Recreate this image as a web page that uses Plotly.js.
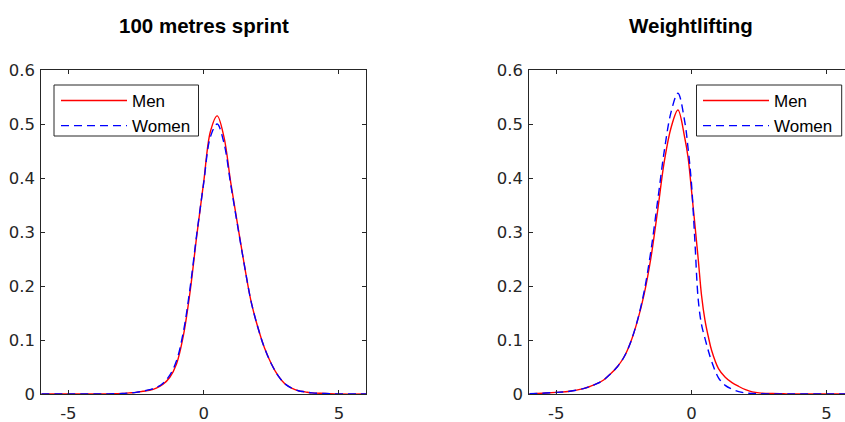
<!DOCTYPE html>
<html>
<head>
<meta charset="utf-8">
<script src="https://cdn.plot.ly/plotly-3.0.1.min.js"></script>
<style>
html, body { margin: 0; padding: 0; overflow: hidden; background: #fff; }
#wrap { width: 845px; height: 422px; overflow: hidden; position: relative; }
#chart { width: 870px; height: 422px; }
</style>
</head>
<body>
<div id="wrap"><div id="chart"></div></div>
<script>
// ---- data ----
const panelTitles = ["100 metres sprint", "Weightlifting"];
const seriesNames = ["Men", "Women"];

const sprintX = [-6,-5,-4,-3.5,-3,-2.75,-2.5,-2.25,-2,-1.75,-1.5,-1.25,-1,-0.75,-0.5,-0.25,0,0.25,0.5,0.75,1,1.25,1.5,1.75,2,2.25,2.5,2.75,3,3.25,3.5,3.75,4,4.5,5,6];
const sprintMen = [0,0,0,0.0003,0.001,0.002,0.003,0.005,0.007,0.011,0.018,0.031,0.056,0.108,0.19,0.295,0.392,0.486,0.515,0.476,0.392,0.315,0.240,0.172,0.124,0.085,0.056,0.034,0.019,0.011,0.006,0.004,0.002,0.001,0,0];
const sprintWomen = [0,0,0,0.0003,0.001,0.002,0.003,0.005,0.008,0.012,0.020,0.035,0.062,0.115,0.197,0.298,0.390,0.476,0.500,0.465,0.388,0.313,0.240,0.172,0.124,0.085,0.056,0.034,0.019,0.011,0.006,0.004,0.002,0.001,0,0];

const liftX = [-6,-5.5,-5,-4.5,-4,-3.75,-3.5,-3.25,-3,-2.75,-2.5,-2.25,-2,-1.75,-1.5,-1.25,-1,-0.75,-0.5,-0.25,-0.125,0,0.125,0.25,0.375,0.5,0.625,0.75,1,1.25,1.5,1.75,2,2.25,2.5,3,3.5,4,5,6];
const liftMen = [0.0005,0.0015,0.003,0.005,0.010,0.014,0.019,0.026,0.037,0.050,0.068,0.096,0.135,0.185,0.252,0.340,0.432,0.494,0.526,0.475,0.438,0.378,0.315,0.250,0.182,0.137,0.106,0.080,0.047,0.031,0.021,0.014,0.008,0.004,0.002,0.0008,0.0003,0,0,0];
const liftWomen = [0.0005,0.0015,0.003,0.005,0.010,0.014,0.019,0.026,0.037,0.050,0.068,0.096,0.136,0.190,0.265,0.358,0.452,0.523,0.557,0.505,0.455,0.390,0.285,0.175,0.128,0.103,0.080,0.060,0.030,0.016,0.009,0.0045,0.002,0.001,0.0005,0,0,0,0,0];

const xTicks = [-5, 0, 5];
const xTickText = ["-5", "0", "5"];
const yTicks = [0, 0.1, 0.2, 0.3, 0.4, 0.5, 0.6];
const yTickText = ["0", "0.1", "0.2", "0.3", "0.4", "0.5", "0.6"];

// ---- layout ----
const W = 870, H = 422;
const FONT = "Liberation Sans, Arial, Helvetica, sans-serif";
const TFONT = "DejaVu Sans, sans-serif";
const AX = '#262626';

function axisX(dom, anchor) {
  return {
    domain: dom, anchor: anchor, range: [-6, 6],
    tickmode: 'array', tickvals: xTicks, ticktext: xTickText,
    showline: true, linecolor: AX, linewidth: 1, mirror: 'allticks',
    ticks: 'inside', ticklen: 4, tickwidth: 1, tickcolor: AX,
    showgrid: false, zeroline: false, automargin: false,
    ticklabelstandoff: 4,
    tickfont: { family: TFONT, size: 16.5, color: AX }
  };
}
function axisY(anchor) {
  return {
    domain: [28 / H, 352 / H], anchor: anchor, range: [0, 0.6],
    tickmode: 'array', tickvals: yTicks, ticktext: yTickText,
    showline: true, linecolor: AX, linewidth: 1, mirror: 'allticks',
    ticks: 'inside', ticklen: 4, tickwidth: 1, tickcolor: AX,
    showgrid: false, zeroline: false, automargin: false,
    ticklabelstandoff: 2,
    tickfont: { family: TFONT, size: 16.5, color: AX }
  };
}
function legendBox(xpx) {
  return {
    x: xpx / W, y: (H - 83) / H, xref: 'paper', yref: 'paper',
    xanchor: 'left', yanchor: 'top',
    bgcolor: 'rgba(0,0,0,0)', borderwidth: 0,
    font: { family: FONT, size: 17, color: '#000' },
    itemwidth: 66, tracegroupgap: 0, traceorder: 'normal'
  };
}
function boxShape(x0, x1) {
  return { type: 'rect', xref: 'paper', yref: 'paper', x0: x0 / W, x1: x1 / W,
           y0: (H - 136) / H, y1: (H - 85) / H,
           line: { color: AX, width: 1 }, fillcolor: 'white', layer: 'above' };
}

const lineMen = { color: '#FF0000', width: 1.4, shape: 'spline', smoothing: 1 };
const lineWomen = { color: '#0000FF', width: 1.4, dash: '8px,5px', shape: 'spline', smoothing: 1 };

const traces = [
  { x: sprintX, y: sprintMen, name: seriesNames[0], type: 'scatter', mode: 'lines', line: lineMen, xaxis: 'x', yaxis: 'y', legend: 'legend', legendgroup: 'a' },
  { x: sprintX, y: sprintWomen, name: seriesNames[1], type: 'scatter', mode: 'lines', line: lineWomen, xaxis: 'x', yaxis: 'y', legend: 'legend', legendgroup: 'b' },
  { x: liftX, y: liftMen, name: seriesNames[0], type: 'scatter', mode: 'lines', line: lineMen, xaxis: 'x2', yaxis: 'y2', legend: 'legend2', legendgroup: 'c' },
  { x: liftX, y: liftWomen, name: seriesNames[1], type: 'scatter', mode: 'lines', line: lineWomen, xaxis: 'x2', yaxis: 'y2', legend: 'legend2', legendgroup: 'd' }
];

const layout = {
  width: W, height: H,
  margin: { l: 0, r: 0, t: 0, b: 0, pad: 0 },
  paper_bgcolor: 'white', plot_bgcolor: 'white',
  showlegend: true,
  xaxis: axisX([41.3 / W, 366 / W], 'y'),
  yaxis: axisY('x'),
  xaxis2: axisX([529.3 / W, 853.6 / W], 'y2'),
  yaxis2: axisY('x2'),
  legend: legendBox(56),
  legend2: legendBox(698),
  shapes: [boxShape(54, 198.5), boxShape(696.5, 841.7)],
  annotations: [
    { text: '<b>' + panelTitles[0] + '</b>', xref: 'x domain', x: 0.5, yref: 'paper', y: (H - 25) / H, xanchor: 'center', yanchor: 'middle', showarrow: false, font: { family: FONT, size: 20.5, color: '#000' } },
    { text: '<b>' + panelTitles[1] + '</b>', xref: 'x2 domain', x: 0.5, yref: 'paper', y: (H - 25) / H, xanchor: 'center', yanchor: 'middle', showarrow: false, font: { family: FONT, size: 20.5, color: '#000' } }
  ]
};

Plotly.newPlot('chart', traces, layout, { staticPlot: true, displayModeBar: false });
</script>
</body>
</html>
